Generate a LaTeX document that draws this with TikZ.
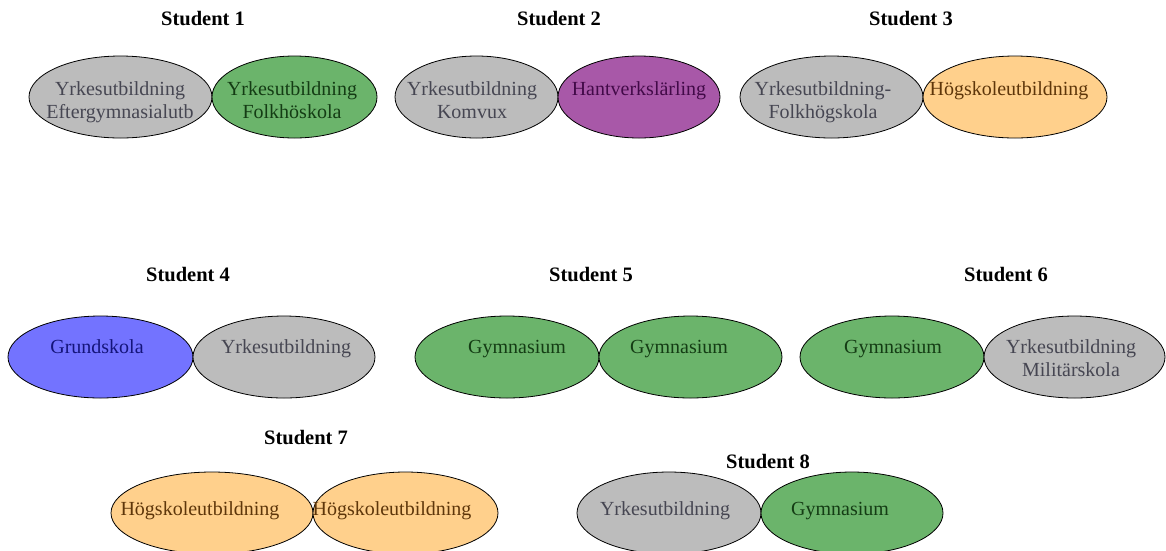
\documentclass[tikz,border=0pt]{standalone}
\usepackage{fontspec}
\setmainfont{Liberation Serif}
\usetikzlibrary{shapes.geometric}
\definecolor{grayF}{HTML}{BCBCBC}
\definecolor{grayT}{HTML}{464652}
\definecolor{greenF}{HTML}{6BB46B}
\definecolor{greenT}{HTML}{143C14}
\definecolor{purpleF}{HTML}{A858A8}
\definecolor{purpleT}{HTML}{420A48}
\definecolor{blueF}{HTML}{7373FF}
\definecolor{blueT}{HTML}{14147A}
\definecolor{orangeF}{HTML}{FFD08C}
\definecolor{orangeT}{HTML}{5E360A}
\begin{document}
\begin{tikzpicture}[x=1pt, y=-1pt,
  oval/.style={ellipse, draw=black, line width=0.8pt, inner sep=0pt, minimum height=82pt},
  txt/.style={anchor=base, align=center, inner sep=0pt, font=\fontsize{20}{23}\selectfont},
  ttl/.style={anchor=base, inner sep=0pt, font=\fontsize{20.5}{23}\selectfont\bfseries}]
\useasboundingbox (0,0) rectangle (1166,550);

% student 1-3
\node[ttl] (st1) at (203,25) {Student 1};
\node[oval, fill=grayF, minimum width=183pt] (s1a) at (120.5,97) {};
\node[oval, fill=greenF, minimum width=165pt] (s1b) at (294.5,97) {};
\node[txt, text=grayT] (t1a) at (120,118) {Yrkesutbildning\\Eftergymnasialutb};
\node[txt, text=greenT] (t1b) at (292,118) {Yrkesutbildning\\Folkhöskola};

\node[ttl] (st2) at (559,25) {Student 2};
\node[oval, fill=grayF, minimum width=163pt] (s2a) at (476.5,97) {};
\node[oval, fill=purpleF, minimum width=162pt] (s2b) at (639,97) {};
\node[txt, text=grayT] (t2a) at (472,118) {Yrkesutbildning\\Komvux};
\node[txt, text=purpleT] (t2b) at (639,95) {Hantverkslärling};

\node[ttl] (st3) at (911,25) {Student 3};
\node[oval, fill=grayF, minimum width=183pt] (s3a) at (831.5,97) {};
\node[oval, fill=orangeF, minimum width=184pt] (s3b) at (1015,97) {};
\node[txt, text=grayT] (t3a) at (823,118) {Yrkesutbildning-\\Folkhögskola};
\node[txt, text=orangeT] (t3b) at (1009,95) {Högskoleutbildning};

% student 4-6
\node[ttl] (st4) at (188,281) {Student 4};
\node[oval, fill=blueF, minimum width=185pt] (s4a) at (100.5,357) {};
\node[oval, fill=grayF, minimum width=182pt] (s4b) at (284,357) {};
\node[txt, text=blueT] (t4a) at (97,353) {Grundskola};
\node[txt, text=grayT] (t4b) at (286,353) {Yrkesutbildning};

\node[ttl] (st5) at (591,281) {Student 5};
\node[oval, fill=greenF, minimum width=184pt] (s5a) at (507,357) {};
\node[oval, fill=greenF, minimum width=183pt] (s5b) at (690.5,357) {};
\node[txt, text=greenT] (t5a) at (517,353) {Gymnasium};
\node[txt, text=greenT] (t5b) at (679,353) {Gymnasium};

\node[ttl] (st6) at (1006,281) {Student 6};
\node[oval, fill=greenF, minimum width=184pt] (s6a) at (892,357) {};
\node[oval, fill=grayF, minimum width=181pt] (s6b) at (1074.5,357) {};
\node[txt, text=greenT] (t6a) at (893,353) {Gymnasium};
\node[txt, text=grayT] (t6b) at (1071,376) {Yrkesutbildning\\Militärskola};

% student 7-8
\node[ttl] (st7) at (306,444) {Student 7};
\node[oval, fill=orangeF, minimum width=202pt] (s7a) at (212,513) {};
\node[oval, fill=orangeF, minimum width=185pt] (s7b) at (405.5,513) {};
\node[txt, text=orangeT] (t7a) at (200,515) {Högskoleutbildning};
\node[txt, text=orangeT] (t7b) at (392,515) {Högskoleutbildning};

\node[ttl] (st8) at (768,468) {Student 8};
\node[oval, fill=grayF, minimum width=184pt] (s8a) at (669,513) {};
\node[oval, fill=greenF, minimum width=182pt] (s8b) at (852,513) {};
\node[txt, text=grayT] (t8a) at (665,515) {Yrkesutbildning};
\node[txt, text=greenT] (t8b) at (840,515) {Gymnasium};
\end{tikzpicture}
\end{document}
